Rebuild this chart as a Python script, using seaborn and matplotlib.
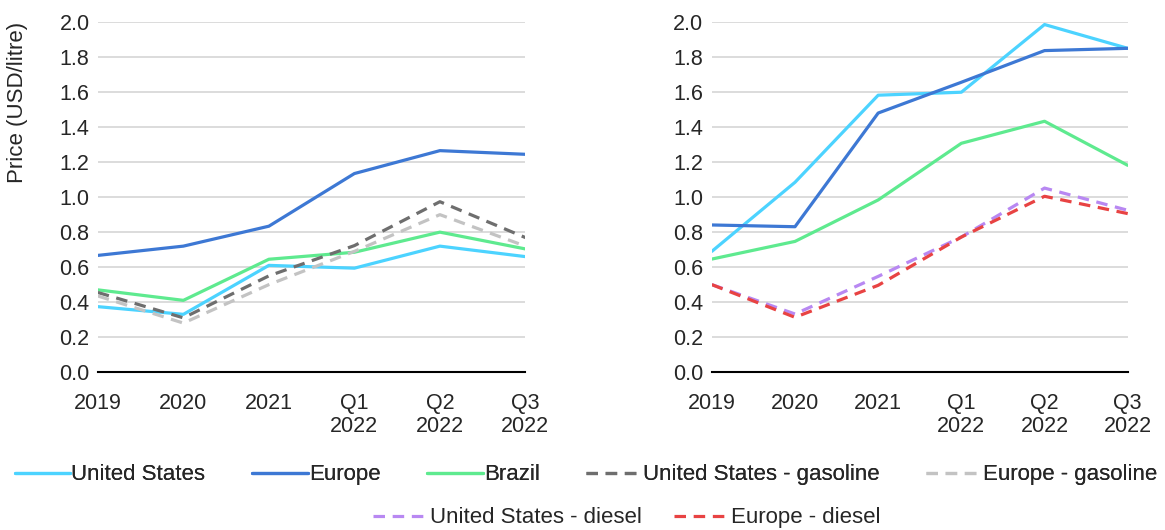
import matplotlib.pyplot as plt
import seaborn as sns
import pandas as pd
from matplotlib.lines import Line2D

periods = ['2019', '2020', '2021', 'Q1\n2022', 'Q2\n2022', 'Q3\n2022']

# left panel
left_us = [0.374, 0.33, 0.61, 0.594, 0.72, 0.66]
left_europe = [0.667, 0.72, 0.834, 1.135, 1.266, 1.245]
left_brazil = [0.47, 0.41, 0.645, 0.685, 0.80, 0.704]
left_us_gasoline = [0.455, 0.31, 0.55, 0.723, 0.974, 0.769]
left_europe_gasoline = [0.435, 0.28, 0.50, 0.69, 0.90, 0.72]

# right panel
right_us = [0.69, 1.085, 1.583, 1.60, 1.987, 1.851]
right_europe = [0.841, 0.831, 1.481, 1.657, 1.838, 1.851]
right_brazil = [0.646, 0.747, 0.984, 1.308, 1.434, 1.182]
right_us_diesel = [0.50, 0.332, 0.547, 0.772, 1.052, 0.925]
right_europe_diesel = [0.50, 0.313, 0.496, 0.772, 1.005, 0.906]

styles = {
    'United States': ('#4CD3FF', '-'),
    'Europe': ('#3D78D4', '-'),
    'Brazil': ('#5EEA8F', '-'),
    'United States - gasoline': ('#6E6E6E', '--'),
    'Europe - gasoline': ('#C3C3C3', '--'),
    'United States - diesel': ('#B888F2', '--'),
    'Europe - diesel': ('#E84343', '--'),
}

left_series = {
    'United States': left_us,
    'Europe': left_europe,
    'Brazil': left_brazil,
    'United States - gasoline': left_us_gasoline,
    'Europe - gasoline': left_europe_gasoline,
}
right_series = {
    'United States': right_us,
    'Europe': right_europe,
    'Brazil': right_brazil,
    'United States - diesel': right_us_diesel,
    'Europe - diesel': right_europe_diesel,
}

sns.set_style('white')
plt.rcParams['font.family'] = ['Liberation Sans', 'DejaVu Sans']
plt.rcParams['font.size'] = 15.5

fig = plt.figure(figsize=(11.65, 5.30), dpi=100)
ax1 = fig.add_axes([0.084, 0.298, 0.367, 0.66])
ax2 = fig.add_axes([0.611, 0.298, 0.357, 0.66])

lw = 2.3
dash = (3.6, 2.4)

def draw(ax, series):
    # dashed series go on top of solid ones, as in the original
    order = [k for k in series if styles[k][1] == '-'] + [k for k in series if styles[k][1] == '--']
    for name in order:
        color, ls = styles[name]
        df = pd.DataFrame({'x': range(len(periods)), 'y': series[name]})
        sns.lineplot(data=df, x='x', y='y', ax=ax, color=color, linewidth=lw)
        if ls == '--':
            ax.lines[-1].set_dashes(dash)
    ax.set_xlim(0, len(periods) - 1)
    ax.set_ylim(0, 2.0)
    ax.set_yticks([i / 10 for i in range(0, 21, 2)])
    ax.set_yticklabels([f'{i / 10:.1f}' for i in range(0, 21, 2)])
    ax.set_xticks(range(len(periods)))
    ax.set_xticklabels(periods, linespacing=1.12)
    ax.grid(axis='y', color='#D9D9D9', linewidth=1.3)
    ax.set_axisbelow(True)
    for s in ['top', 'right', 'left']:
        ax.spines[s].set_visible(False)
    ax.spines['bottom'].set_color('black')
    ax.spines['bottom'].set_linewidth(1.5)
    ax.tick_params(axis='x', direction='out', length=6, width=1.3, color='black', pad=9)
    ax.tick_params(axis='y', length=0, pad=6)
    ax.set_xlabel('')
    ax.set_ylabel('')

draw(ax1, left_series)
draw(ax2, right_series)
ax1.set_ylabel('Price (USD/litre)', fontsize=16)
ax1.yaxis.set_label_coords(-0.163, 0.77)

def handle(name):
    color, ls = styles[name]
    h = Line2D([], [], color=color, linewidth=lw)
    if ls == '--':
        h.set_dashes(dash)
    return h

row1 = ['United States', 'Europe', 'Brazil', 'United States - gasoline', 'Europe - gasoline']
row2 = ['United States - diesel', 'Europe - diesel']

leg_kw = dict(loc='center', frameon=False, handlelength=2.5, handletextpad=0.05, fontsize=16)
leg1 = fig.legend([handle(n) for n in row1], row1, bbox_to_anchor=(0.503, 0.104), ncol=5,
                  columnspacing=2.1, **leg_kw)
fig.add_artist(leg1)
fig.legend([handle(n) for n in row2], row2, bbox_to_anchor=(0.538, 0.023), ncol=2,
           columnspacing=1.45, **leg_kw)

fig.savefig('out.png', dpi=100)
